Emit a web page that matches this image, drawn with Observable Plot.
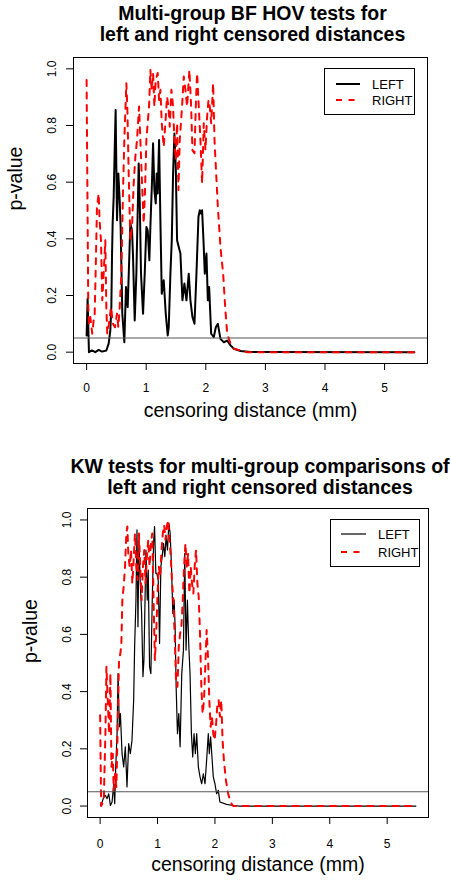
<!DOCTYPE html>
<html><head><meta charset="utf-8">
<script src="https://cdn.jsdelivr.net/npm/d3@7"></script>
<script src="https://cdn.jsdelivr.net/npm/@observablehq/plot@0.6"></script>
<style>
html,body{margin:0;padding:0;background:#fff;}
body{width:451px;height:886px;overflow:hidden;font-family:"Liberation Sans",Arial,Helvetica,sans-serif;}
.panel{position:relative;width:451px;height:443px;}
.panel > svg{position:absolute;left:0;top:0;}
.title{position:absolute;font-weight:bold;font-size:19.5px;line-height:21px;text-align:center;color:#000;white-space:nowrap;}
</style></head><body>
<div id="root"></div>
<script>
// ---- data ----
const xTicks = [0, 1, 2, 3, 4, 5];
const yTicks = [0, 0.2, 0.4, 0.6, 0.8, 1.0];
const seriesNames = ["LEFT", "RIGHT"];
const threshold = 0.05;
const titleBF = "Multi-group BF HOV tests for\nleft and right censored distances";
const titleKW = "KW tests for multi-group comparisons of\nleft and right censored distances";
const xLabel = "censoring distance (mm)";
const yLabel = "p-value";

const bfLeftX = [0,0.017,0.039,0.09,0.146,0.202,0.258,0.331,0.37,0.398,0.415,0.426,0.437,0.454,0.471,0.487,0.51,0.532,0.555,0.571,0.599,0.633,0.661,0.689,0.734,0.762,0.779,0.807,0.835,0.874,0.891,0.913,0.947,0.975,1.003,1.025,1.053,1.07,1.098,1.115,1.137,1.16,1.176,1.193,1.216,1.238,1.261,1.294,1.328,1.361,1.378,1.406,1.429,1.451,1.473,1.496,1.518,1.546,1.574,1.608,1.641,1.675,1.714,1.742,1.776,1.81,1.843,1.877,1.899,1.922,1.938,1.961,1.983,2.011,2.034,2.056,2.09,2.134,2.168,2.202,2.246,2.303,2.359,2.415,2.471,2.583,2.75,5.5];
const bfLeftP = [0.059,0.189,0,0.006,0,0.008,0.002,0.006,0.03,0.077,0.159,0.336,0.454,0.548,0.713,0.855,0.466,0.631,0.537,0.442,0.136,0.035,0.23,0.159,0.454,0.43,0.336,0.112,0.277,0.666,0.537,0.277,0.136,0.277,0.442,0.43,0.324,0.442,0.607,0.737,0.572,0.525,0.631,0.56,0.749,0.466,0.206,0.254,0.136,0.059,0.088,0.277,0.395,0.631,0.772,0.654,0.395,0.371,0.348,0.183,0.242,0.183,0.277,0.183,0.124,0.1,0.277,0.478,0.501,0.489,0.501,0.395,0.277,0.348,0.183,0.23,0.065,0.053,0.088,0.1,0.047,0.035,0.041,0.024,0.012,0.004,0.001,0];

const bfRightX = [0,0.011,0.028,0.039,0.062,0.095,0.118,0.134,0.151,0.174,0.202,0.218,0.241,0.263,0.286,0.314,0.331,0.347,0.375,0.409,0.443,0.476,0.51,0.532,0.555,0.583,0.611,0.633,0.667,0.683,0.706,0.734,0.762,0.79,0.818,0.846,0.88,0.902,0.93,0.958,0.98,1.003,1.025,1.048,1.07,1.092,1.115,1.137,1.16,1.193,1.216,1.238,1.261,1.294,1.322,1.35,1.373,1.395,1.423,1.451,1.473,1.496,1.518,1.541,1.563,1.602,1.63,1.658,1.686,1.725,1.754,1.776,1.81,1.832,1.854,1.882,1.91,1.938,1.966,1.994,2.022,2.045,2.067,2.09,2.123,2.146,2.202,2.246,2.291,2.325,2.359,2.415,2.471,2.695,5.5];
const bfRightP = [0.961,0.631,0.159,0.1,0.124,0.065,0.112,0.124,0.277,0.513,0.56,0.466,0.395,0.183,0.277,0.395,0.159,0.065,0.1,0.159,0.1,0.088,0.136,0.088,0.159,0.277,0.572,0.749,0.949,0.867,0.631,0.395,0.442,0.596,0.69,0.749,0.867,0.749,0.596,0.454,0.572,0.749,0.808,0.867,0.996,0.926,0.985,0.867,0.961,0.985,0.89,0.926,0.808,0.725,0.808,0.902,0.867,0.796,0.926,0.867,0.749,0.678,0.808,0.572,0.749,0.867,0.973,0.926,0.867,0.996,0.867,0.713,0.702,0.867,0.985,0.867,0.749,0.596,0.808,0.713,0.831,0.89,0.867,0.808,0.949,0.749,0.513,0.371,0.277,0.159,0.065,0.03,0.012,0,0];

const kwLeftX = [0.006,0.035,0.064,0.092,0.121,0.15,0.179,0.208,0.237,0.254,0.272,0.295,0.312,0.335,0.353,0.382,0.41,0.439,0.468,0.497,0.526,0.555,0.584,0.601,0.624,0.642,0.659,0.676,0.699,0.723,0.746,0.763,0.78,0.798,0.821,0.838,0.861,0.884,0.908,0.931,0.948,0.971,0.988,1.012,1.035,1.058,1.081,1.104,1.127,1.15,1.173,1.197,1.22,1.243,1.266,1.289,1.306,1.324,1.347,1.37,1.393,1.422,1.451,1.474,1.497,1.52,1.543,1.566,1.59,1.613,1.636,1.659,1.682,1.711,1.74,1.769,1.798,1.827,1.855,1.884,1.902,1.925,1.948,1.971,2.0,2.029,2.058,2.087,2.202,2.318,2.434,5.5];
const kwLeftP = [0.002,0.014,0.032,0.037,0.026,0.043,0.002,0.014,0.078,0.008,0.137,0.253,0.463,0.277,0.323,0.183,0.137,0.207,0.067,0.218,0.183,0.23,0.37,0.557,0.72,0.965,0.627,0.93,0.778,0.673,0.452,0.51,0.697,0.895,0.72,0.825,0.487,0.463,0.72,0.918,0.977,0.813,0.813,0.79,0.568,0.837,0.872,0.918,0.872,0.942,0.895,0.988,0.953,0.837,0.673,0.72,0.627,0.417,0.253,0.323,0.207,0.463,0.545,0.883,0.545,0.72,0.568,0.463,0.253,0.172,0.253,0.183,0.253,0.137,0.102,0.078,0.113,0.078,0.16,0.253,0.183,0.242,0.172,0.102,0.078,0.043,0.055,0.014,0.006,0.002,0,0];

const kwRightX = [0,0.017,0.064,0.092,0.11,0.133,0.156,0.179,0.197,0.22,0.237,0.26,0.283,0.306,0.329,0.353,0.37,0.387,0.41,0.434,0.457,0.474,0.491,0.514,0.538,0.561,0.584,0.607,0.63,0.653,0.676,0.699,0.723,0.746,0.769,0.792,0.815,0.838,0.861,0.884,0.908,0.931,0.954,0.977,1.0,1.023,1.046,1.069,1.092,1.116,1.139,1.162,1.185,1.208,1.231,1.254,1.277,1.301,1.324,1.347,1.37,1.393,1.416,1.439,1.462,1.486,1.509,1.532,1.555,1.578,1.601,1.624,1.647,1.671,1.694,1.717,1.74,1.763,1.786,1.809,1.832,1.855,1.879,1.902,1.925,1.948,1.971,1.994,2.017,2.04,2.064,2.087,2.11,2.133,2.156,2.191,2.231,2.272,2.318,5.5];
const kwRightP = [0.317,0,0.02,0.253,0.487,0.37,0.253,0.463,0.137,0.183,0.055,0.113,0.067,0.277,0.51,0.533,0.568,0.72,0.767,0.837,0.953,0.977,0.883,0.837,0.895,0.778,0.86,0.953,0.837,0.79,0.953,0.837,0.72,0.837,0.895,0.778,0.872,0.93,0.837,0.918,0.953,0.72,0.51,0.603,0.743,0.837,0.802,0.895,0.953,0.982,0.93,0.977,1.0,0.93,0.872,0.778,0.72,0.58,0.428,0.417,0.557,0.603,0.627,0.72,0.837,0.918,0.837,0.883,0.743,0.837,0.778,0.743,0.837,0.895,0.778,0.732,0.603,0.417,0.323,0.37,0.487,0.615,0.522,0.37,0.277,0.312,0.253,0.23,0.277,0.347,0.37,0.312,0.37,0.23,0.16,0.09,0.043,0.014,0,0];

// ---- drawing ----
const FONT = "'Liberation Sans', Arial, Helvetica, sans-serif";
const rows = (xs, ps) => xs.slice(0, Math.min(xs.length, ps.length)).map((x, i) => ({x, p: ps[i]}));

function drawPanel(cfg) {
  const root = document.getElementById("root");
  const panel = document.createElement("div");
  panel.className = "panel";
  root.appendChild(panel);
  const m = cfg.margin;
  const chart = Plot.plot({
    width: 451, height: 443,
    marginLeft: m.left, marginRight: m.right, marginTop: m.top, marginBottom: m.bottom,
    x: {domain: [-0.22, 5.72]},
    y: {domain: [-0.04, 1.04]},
    style: {fontFamily: FONT, fontSize: "12px", color: "black", background: "white", overflow: "visible"},
    marks: [
      Plot.line(rows(cfg.leftX, cfg.leftP), {x: "x", y: "p", stroke: "black", strokeWidth: cfg.leftWidth, strokeLinejoin: "round"}),
      Plot.line(rows(cfg.rightX, cfg.rightP), {x: "x", y: "p", stroke: "#ff0000", strokeWidth: 2, strokeDasharray: "6,6.5", strokeLinejoin: "round"}),
      Plot.ruleY([threshold], {stroke: "#555", strokeWidth: 1}),
      Plot.frame({stroke: "black", strokeWidth: 1}),
      Plot.axisX({ticks: xTicks, tickSize: 7, tickPadding: cfg.xPad, label: null, fontSize: 12, tickFormat: d3.format("d")}),
      Plot.axisY({ticks: yTicks, tickSize: 7, tickPadding: cfg.yPad, tickRotate: -90, label: null, fontSize: 12, tickFormat: d3.format(".1f")}),
      Plot.text([xLabel], {frameAnchor: "bottom", dy: 53, fontSize: 19.5}),
      Plot.text([yLabel], {frameAnchor: "left", dx: cfg.yLabelDx, rotate: -90, fontSize: 19.5})
    ]
  });
  panel.appendChild(chart);

  const t = document.createElement("div");
  t.className = "title";
  t.style.left = (m.left + (451 - m.left - m.right) / 2 + 2.5 - 225) + "px";
  t.style.width = "450px";
  t.style.top = cfg.titleTop + "px";
  t.innerHTML = cfg.title.split("\n").map(s => s.replace(/&/g, "&amp;")).join("<br>");
  panel.appendChild(t);

  const L = cfg.legend;
  const svg = d3.select(panel).append("svg")
    .attr("width", L.w).attr("height", L.h)
    .style("position", "absolute").style("left", L.x + "px").style("top", L.y + "px")
    .style("font-family", FONT);
  svg.append("rect").attr("x", 0.5).attr("y", 0.5).attr("width", L.w - 1).attr("height", L.h - 1)
    .attr("fill", "white").attr("stroke", "black").attr("stroke-width", 1);
  seriesNames.forEach((name, i) => {
    const y = L.row0 + i * L.gap;
    svg.append("line").attr("x1", L.lx0).attr("x2", L.lx1).attr("y1", y).attr("y2", y)
      .attr("stroke", i === 0 ? "black" : "#ff0000")
      .attr("stroke-width", i === 0 ? cfg.leftWidth : 2)
      .attr("stroke-dasharray", i === 0 ? null : "6,6.5");
    svg.append("text").attr("x", L.tx).attr("y", y).attr("dy", "0.36em")
      .attr("font-size", 13).attr("fill", "black").text(name);
  });
}

drawPanel({
  title: titleBF, titleTop: 3,
  margin: {left: 73, right: 24, top: 57, bottom: 80},
  leftX: bfLeftX, leftP: bfLeftP, rightX: bfRightX, rightP: bfRightP,
  leftWidth: 2, xPad: 13, yPad: 11, yLabelDx: -58,
  legend: {x: 324, y: 68, w: 91, h: 47, row0: 16, gap: 16, lx0: 12, lx1: 36, tx: 48}
});
drawPanel({
  title: titleKW, titleTop: 13,
  margin: {left: 87, right: 23, top: 65, bottom: 69},
  leftX: kwLeftX, leftP: kwLeftP, rightX: kwRightX, rightP: kwRightP,
  leftWidth: 1.2, xPad: 15, yPad: 10, yLabelDx: -57,
  legend: {x: 330, y: 76, w: 90, h: 48, row0: 15, gap: 18, lx0: 11, lx1: 36, tx: 48}
});
</script>
</body></html>
